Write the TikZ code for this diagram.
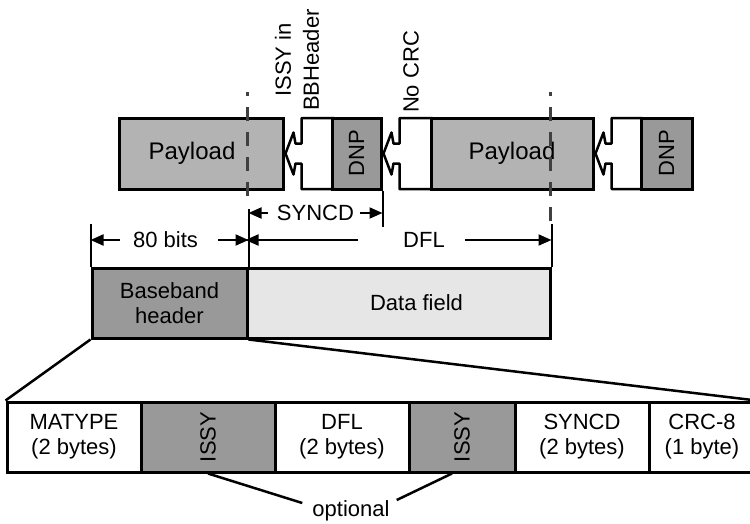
\documentclass[tikz,border=0pt]{standalone}
\usepackage{fontspec}
\setmainfont{Liberation Sans}
\usetikzlibrary{arrows.meta,backgrounds}
\definecolor{paygray}{HTML}{B3B3B3}
\definecolor{darkfill}{HTML}{999999}
\definecolor{lightfill}{HTML}{E6E6E6}
\definecolor{dashgray}{HTML}{404040}
\begin{document}
\begin{tikzpicture}[x=1pt,y=-1pt,
  font=\fontsize{22}{25}\selectfont,
  box/.style={draw, line width=3pt, inner sep=0pt, align=center, minimum height=70pt},
  lbl/.style={inner sep=0pt, align=center},
  dim/.style={line width=2pt, -{Triangle[length=13pt,width=11pt]}},
  ext/.style={line width=2pt},
  fan/.style={line width=2.5pt},
  dashline/.style={line width=3pt, dashgray, dash pattern=on 14pt off 11pt, dash phase=10pt},
  barrow/.pic={\filldraw[fill=white, line width=2.5pt, line join=round]
     (#1,-35.5) -- (16,-35.5) -- (16,-10) -- (10,-10) -- (8,-21) -- (0,0)
     -- (8,21) -- (10,10) -- (16,10) -- (16,35.5) -- (#1,35.5);}
]
\useasboundingbox (0,0) rectangle (750,523);
\clip (0,0) rectangle (750,523);

% top row
\node[box, fill=paygray, minimum width=164pt, minimum height=71pt, font=\fontsize{24}{28}\selectfont] (p1) at (201,153.5) {Payload\hspace*{18pt}};
\node[box, fill=darkfill, minimum width=49pt, minimum height=71pt] (d1) at (356.5,153.5) {\rotatebox{90}{DNP}};
\node[box, fill=paygray, minimum width=162pt, minimum height=71pt, font=\fontsize{24}{28}\selectfont] (p2) at (512,153.5) {Payload};
\node[box, fill=darkfill, minimum width=51pt, minimum height=71pt] (d2) at (666.5,153.5) {\rotatebox{90}{DNP}};

\begin{scope}[on background layer]
  \pic at ([xshift=1pt]p1.east) {barrow=49};
  \pic at ([xshift=1pt]d1.east) {barrow=49};
  \pic at ([xshift=1pt]p2.east) {barrow=47};
\end{scope}

% labels above
\node[lbl, rotate=90, font=\fontsize{22}{28}\selectfont] (lab1) at (297,60) {ISSY in\\BBHeader};
\node[lbl, rotate=90] (lab2) at (411,72) {No CRC};

% middle row
\node[box, fill=darkfill, minimum width=155pt] (bb) at (169.5,303) {Baseband\\header};
\node[box, fill=lightfill, minimum width=303pt] (df) at (398.5,303) {\hspace*{36pt}Data field};

% dashed markers
\coordinate (da1) at (247,92);
\coordinate (db1) at (247,205);
\coordinate (da2) at (550,92);
\coordinate (db2) at (550,222);
\draw[dashline] (da1) -- (db1);
\draw[dashline] (da2) -- (db2);

% extension lines
\draw[ext] (bb.north west) -- ++(0,-43);
\draw[ext] (bb.north east) -- ++(0,-58);
\draw[ext] (df.north east) -- ++(0,-43);
\draw[ext] (d1.south east) -- ++(0,36);

% dimensions
\node[lbl] (t80) at (165.5,240) {80 bits};
\draw[dim] ([xshift=-13pt]t80.west) -- (t80.west -| bb.west);
\draw[dim] ([xshift=20pt]t80.east) -- (t80.east -| bb.east);
\node[lbl] (tdfl) at (424,240) {DFL};
\draw[dim] ([xshift=-45pt]tdfl.west) -- (tdfl.west -| df.west);
\draw[dim] ([xshift=20pt]tdfl.east) -- (tdfl.east -| df.east);
\node[lbl] (tsy) at (315.5,213) {SYNCD};
\draw[dim] ([xshift=-9pt]tsy.west) -- (tsy.west -| bb.east);
\draw[dim] ([xshift=6pt]tsy.east) -- (tsy.east -| d1.east);

% bottom row
\node[box, minimum width=134pt] (f1) at (74,437) {MATYPE\\(2 bytes)};
\node[box, fill=darkfill, minimum width=134pt] (f2) at (208,437) {\rotatebox{90}{ISSY}};
\node[box, minimum width=134pt] (f3) at (342,437) {DFL\\(2 bytes)};
\node[box, fill=darkfill, minimum width=106pt] (f4) at (462,437) {\rotatebox{90}{ISSY}};
\node[box, minimum width=134pt] (f5) at (582,437) {SYNCD\\(2 bytes)};
\node[box, minimum width=106pt] (f6) at (702,437) {CRC-8\\(1 byte)};

% fan lines
\draw[fan] (bb.south west) -- (f1.north west);
\draw[fan] (bb.south east) -- (f6.north east);

% optional
\node[lbl] (opt) at (351,511) {optional};
\draw[fan] (f2.south) -- ([xshift=-10pt,yshift=8pt]opt.west);
\draw[fan] ([xshift=-10pt]f4.south) -- ([xshift=7pt,yshift=11pt]opt.east);
\end{tikzpicture}
\end{document}
